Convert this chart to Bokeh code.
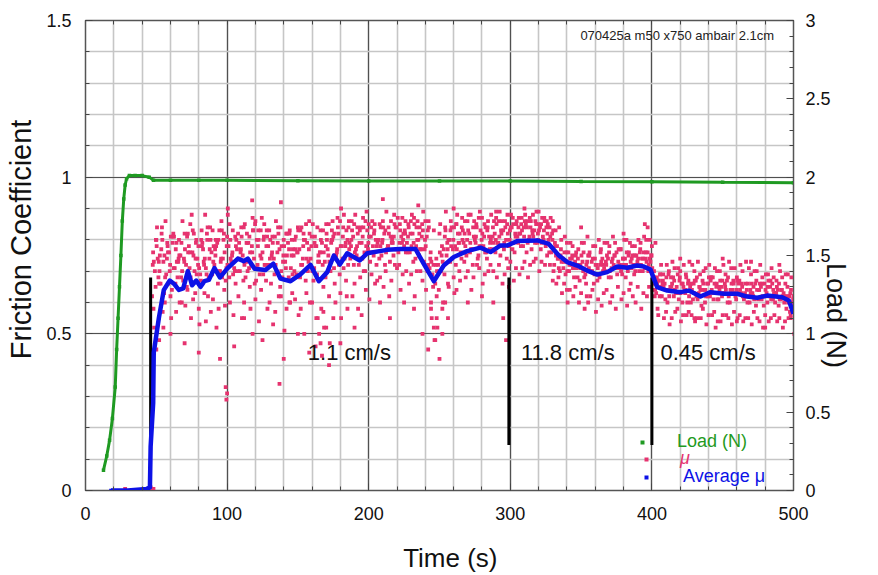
import numpy as np
from bokeh.plotting import figure
from bokeh.models import (Range1d, LinearAxis, FixedTicker, NumeralTickFormatter,
                          Label, Legend, LegendItem)
from bokeh.embed import file_html
from bokeh.resources import INLINE

# ---------------- data ----------------
load_t = [12.7, 15, 17, 19, 21, 22, 23, 24, 25, 26, 27, 28, 29, 31, 35, 40, 45, 48,
          60, 80, 100, 150, 200, 250, 300, 350, 400, 450, 500]
load_n = [0.13, 0.22, 0.32, 0.46, 0.66, 0.90, 1.10, 1.30, 1.50, 1.72, 1.86, 1.95, 1.99,
          2.01, 2.01, 2.01, 2.00, 1.98, 1.98, 1.98, 1.98, 1.977, 1.975, 1.975, 1.975,
          1.972, 1.97, 1.967, 1.965]

avg_t = [18, 30, 43, 45.5, 46, 47.8, 48.2, 51.8, 55.3, 59.5, 62.4, 65.9, 69, 72.3, 75.3,
         78.2, 81.2, 84, 87.1, 91.1, 94.9, 100.1, 107.6, 111.8, 114.6, 119.4, 127.1,
         132.6, 137.7, 144.8, 151.8, 158.9, 164.8, 170.7, 175.4, 179.6, 184.8, 193.7,
         198.9, 213, 222.5, 233, 238.9, 246, 253, 260.1, 269.5, 278.9, 286, 293.1, 297.8,
         304.9, 319, 327.2, 334.3, 340.2, 347.2, 354.3, 361.4, 368.4, 375.5, 382.5, 389.6,
         394.3, 399, 403.7, 410.8, 420.2, 426.1, 434.3, 441.4, 450.8, 460.2, 467.3, 474.4,
         481.4, 492, 496.7, 500]
avg_mu = [0.0, 0.0, 0.005, 0.01, 0.14, 0.28, 0.44, 0.55, 0.64, 0.67, 0.66, 0.64, 0.645,
          0.70, 0.655, 0.67, 0.65, 0.668, 0.672, 0.71, 0.68, 0.708, 0.74, 0.732, 0.74,
          0.708, 0.704, 0.724, 0.676, 0.668, 0.69, 0.72, 0.668, 0.697, 0.75, 0.721, 0.757,
          0.734, 0.757, 0.768, 0.771, 0.771, 0.723, 0.668, 0.718, 0.745, 0.764, 0.775,
          0.761, 0.782, 0.782, 0.796, 0.798, 0.787, 0.75, 0.729, 0.718, 0.702, 0.689,
          0.697, 0.715, 0.711, 0.718, 0.715, 0.705, 0.649, 0.638, 0.633, 0.638, 0.619,
          0.633, 0.628, 0.628, 0.619, 0.615, 0.622, 0.617, 0.606, 0.564]

# friction coefficient samples (hundredths), six sweeps sampled every 2 s
mu_time = list(range(47, 500, 2))
sweep_offsets = [0.0, 0.5, 1.0, 1.5, 0.75, 1.25]

mu_a = [62, 70, 74, 66, 73, 69, 76, 64, 71, 68,
        75, 67, 72, 78, 66, 70, 74, 69, 77, 71,
        68, 76, 72, 79, 70, 74, 67, 78, 73, 71,
        77, 70, 75, 68, 79, 72, 74, 80, 69, 76,
        72, 78, 66, 74, 70, 77, 68, 73, 79, 71,
        75, 69, 77, 72, 80, 70, 74, 67, 78, 73,
        79, 73, 77, 70, 81, 75, 72, 78, 74, 80,
        74, 81, 77, 72, 79, 76, 83, 73, 78, 80,
        80, 75, 82, 77, 73, 79, 84, 76, 81, 78,
        79, 76, 82, 74, 80, 77, 73, 81, 71, 69,
        66, 72, 70, 77, 75, 80, 74, 78, 82, 76,
        79, 75, 82, 77, 80, 74, 83, 78, 76, 81,
        77, 82, 79, 75, 83, 80, 78, 84, 76, 81,
        82, 78, 85, 80, 77, 83, 79, 84, 81, 78,
        80, 76, 72, 78, 70, 74, 69, 76, 72, 68,
        71, 67, 73, 69, 75, 70, 66, 72, 68, 74,
        70, 74, 68, 72, 76, 71, 69, 74, 70, 73,
        72, 75, 70, 74, 71, 76, 73, 66, 63, 67,
        62, 66, 60, 65, 68, 63, 61, 66, 64, 60,
        65, 61, 67, 63, 59, 64, 66, 62, 68, 63,
        61, 65, 63, 67, 60, 64, 62, 66, 63, 61,
        64, 60, 63, 66, 61, 65, 59, 63, 62, 66,
        60, 64, 61, 63, 58, 62, 59]
mu_b = [72, 65, 68, 77, 63, 74, 70, 79, 66, 73,
        68, 74, 65, 71, 76, 63, 72, 67, 73, 69,
        74, 69, 77, 66, 73, 80, 71, 68, 75, 70,
        70, 76, 67, 73, 71, 78, 66, 72, 75, 69,
        67, 72, 75, 69, 76, 65, 73, 71, 68, 75,
        70, 76, 68, 74, 67, 73, 78, 71, 69, 76,
        72, 68, 75, 79, 71, 76, 69, 74, 78, 72,
        78, 72, 75, 79, 74, 70, 77, 81, 75, 72,
        74, 79, 72, 78, 81, 75, 77, 72, 79, 83,
        76, 82, 73, 78, 75, 81, 77, 70, 74, 65,
        72, 64, 75, 69, 79, 73, 77, 72, 79, 74,
        73, 80, 76, 72, 79, 75, 78, 81, 74, 77,
        81, 76, 79, 83, 77, 74, 80, 77, 82, 79,
        78, 84, 76, 81, 83, 79, 82, 77, 80, 84,
        76, 82, 79, 74, 75, 71, 73, 70, 74, 71,
        68, 72, 70, 66, 71, 73, 69, 67, 72, 70,
        73, 68, 71, 75, 69, 72, 74, 68, 75, 71,
        69, 72, 76, 70, 74, 70, 75, 70, 68, 62,
        66, 61, 64, 68, 62, 65, 67, 60, 63, 66,
        60, 66, 62, 65, 64, 60, 62, 67, 61, 65,
        65, 62, 66, 60, 64, 67, 61, 63, 66, 62,
        60, 64, 62, 59, 64, 61, 66, 60, 65, 61,
        63, 59, 64, 60, 62, 57, 60]
mu_c = [58, 80, 66, 84, 60, 78, 62, 82, 57, 80,
        60, 82, 64, 85, 61, 79, 58, 83, 63, 80,
        84, 61, 80, 58, 86, 64, 81, 60, 83, 66,
        62, 84, 60, 82, 65, 87, 61, 83, 64, 81,
        83, 60, 81, 57, 84, 62, 80, 58, 82, 63,
        61, 84, 58, 82, 63, 86, 60, 81, 55, 83,
        65, 85, 62, 83, 66, 87, 63, 84, 67, 86,
        86, 66, 84, 68, 87, 64, 85, 69, 83, 67,
        68, 86, 70, 84, 67, 88, 71, 85, 69, 86,
        85, 69, 87, 70, 84, 67, 86, 72, 60, 83,
        62, 82, 58, 84, 66, 86, 68, 85, 70, 87,
        86, 70, 88, 68, 85, 71, 87, 69, 84, 72,
        70, 87, 72, 86, 69, 88, 73, 85, 71, 87,
        87, 73, 86, 72, 88, 74, 85, 73, 87, 75,
        72, 86, 83, 68, 80, 66, 79, 64, 78, 65,
        77, 63, 79, 62, 76, 64, 78, 61, 77, 63,
        64, 78, 62, 79, 65, 77, 63, 80, 64, 78,
        78, 65, 79, 63, 80, 65, 78, 62, 58, 69,
        69, 57, 70, 55, 71, 58, 70, 56, 69, 57,
        56, 70, 55, 69, 58, 71, 56, 68, 57, 70,
        70, 56, 69, 55, 71, 57, 68, 56, 70, 55,
        55, 69, 57, 70, 54, 68, 56, 69, 55, 68,
        67, 55, 68, 54, 69, 56, 62]
mu_d = [52, 84, 75, 57, 86, 66, 55, 81, 73, 60,
        86, 59, 76, 55, 82, 69, 53, 79, 88, 62,
        57, 78, 52, 83, 68, 59, 88, 74, 56, 80,
        79, 55, 85, 70, 58, 83, 67, 54, 87, 72,
        58, 80, 53, 86, 62, 78, 51, 82, 60, 77,
        81, 56, 84, 50, 79, 60, 85, 46, 75, 58,
        52, 80, 47, 86, 60, 82, 55, 88, 62, 79,
        62, 88, 58, 84, 70, 89, 61, 86, 66, 80,
        84, 65, 89, 62, 80, 72, 87, 64, 82, 70,
        66, 88, 62, 86, 70, 89, 64, 84, 55, 48,
        52, 85, 60, 89, 65, 84, 63, 88, 67, 83,
        68, 88, 64, 86, 72, 89, 66, 84, 70, 88,
        86, 68, 89, 66, 84, 71, 88, 67, 86, 69,
        71, 88, 68, 86, 73, 89, 70, 87, 72, 85,
        87, 70, 66, 84, 63, 81, 60, 79, 62, 76,
        60, 79, 58, 81, 62, 78, 57, 80, 59, 79,
        79, 60, 81, 58, 77, 61, 80, 59, 79, 62,
        60, 80, 58, 81, 62, 80, 64, 79, 56, 72,
        55, 72, 53, 73, 57, 71, 54, 72, 56, 73,
        72, 54, 73, 55, 70, 53, 72, 56, 71, 54,
        54, 72, 56, 73, 53, 71, 55, 72, 54, 73,
        71, 53, 70, 55, 72, 52, 69, 54, 71, 56,
        54, 70, 52, 69, 55, 68, 50]
mu_e = [76, 80, 73, 82, 75, 79, 72, 81, 77, 74,
        79, 73, 81, 76, 83, 74, 78, 80, 72, 82,
        77, 83, 75, 80, 74, 82, 78, 85, 76, 81,
        82, 77, 84, 79, 81, 76, 85, 78, 83, 80,
        78, 83, 76, 81, 79, 84, 75, 82, 77, 80,
        80, 76, 83, 78, 85, 77, 81, 79, 84, 76,
        83, 78, 85, 80, 82, 77, 86, 81, 79, 84,
        80, 85, 78, 83, 81, 86, 79, 84, 82, 78,
        85, 80, 83, 78, 86, 81, 84, 79, 87, 82,
        81, 86, 79, 84, 82, 85, 80, 83, 76, 72,
        74, 70, 78, 81, 77, 83, 80, 85, 79, 84,
        82, 86, 79, 84, 81, 87, 80, 85, 83, 79,
        84, 80, 86, 82, 79, 85, 83, 87, 81, 84,
        85, 81, 84, 87, 82, 86, 80, 85, 83, 86,
        84, 80, 78, 74, 77, 73, 76, 72, 75, 73,
        74, 71, 76, 72, 75, 70, 74, 71, 76, 72,
        72, 76, 73, 75, 71, 77, 74, 72, 76, 74,
        75, 73, 77, 74, 76, 72, 75, 68, 66, 69,
        67, 64, 69, 65, 67, 63, 68, 66, 64, 67,
        66, 63, 68, 65, 67, 64, 66, 68, 63, 66,
        64, 67, 65, 68, 63, 66, 64, 67, 65, 63,
        66, 63, 65, 67, 64, 66, 62, 65, 67, 64,
        63, 66, 64, 62, 65, 63, 61]
mu_f = [73, 78, 70, 80, 68, 76, 81, 71, 79, 75,
        70, 77, 82, 68, 75, 80, 71, 78, 74, 84,
        80, 73, 78, 70, 83, 76, 72, 80, 69, 78,
        74, 81, 72, 79, 76, 83, 71, 80, 74, 85,
        81, 74, 79, 72, 82, 70, 78, 75, 83, 69,
        77, 83, 72, 80, 74, 82, 70, 78, 73, 80,
        76, 82, 73, 80, 75, 84, 78, 71, 83, 77,
        83, 76, 82, 74, 84, 78, 81, 76, 85, 79,
        78, 84, 76, 82, 79, 85, 77, 83, 80, 76,
        84, 78, 85, 80, 77, 83, 78, 86, 73, 67,
        70, 76, 73, 83, 80, 78, 84, 77, 82, 80,
        78, 83, 77, 81, 84, 78, 82, 76, 86, 80,
        79, 85, 81, 78, 86, 82, 84, 79, 85, 82,
        83, 86, 79, 84, 81, 85, 83, 79, 86, 82,
        81, 83, 75, 71, 73, 76, 70, 74, 71, 75,
        72, 75, 68, 73, 70, 74, 72, 69, 73, 71,
        75, 70, 74, 71, 73, 70, 72, 76, 71, 75,
        70, 74, 72, 76, 73, 74, 71, 64, 67, 65,
        65, 68, 62, 66, 64, 69, 63, 65, 68, 62,
        64, 67, 61, 64, 66, 62, 68, 64, 66, 61,
        67, 63, 64, 62, 66, 63, 67, 64, 62, 66,
        62, 66, 61, 64, 66, 62, 64, 67, 61, 63,
        65, 61, 62, 66, 60, 64, 62]
mu_sweeps = [mu_a, mu_b, mu_c, mu_d, mu_e, mu_f]

# isolated friction readings (outliers and pre-slide zeros)
out_t = [28, 44, 46, 47, 48, 50, 52, 55, 60, 70, 75, 80, 85, 95, 99, 99.5, 100, 100.5,
         105, 112, 117.7, 118, 120, 125, 137, 138, 140, 144, 150, 158, 163, 165, 166,
         167, 168, 170, 172, 175, 180, 180.5, 185, 190, 195, 208, 210, 215, 225, 232,
         235, 238, 242, 244, 246, 247, 248, 250, 252, 254, 256, 260, 262, 270, 280,
         288, 290, 295, 297, 299, 310, 320, 330, 340, 350, 355, 380, 385, 395, 397,
         420, 430, 445, 450, 460, 470, 480, 490, 498]
out_mu = [0.005, 0.005, 0.01, 0.0, 0.005, 0.45, 0.48, 0.52, 0.50, 0.47, 0.88, 0.44,
          0.54, 0.42, 0.33, 0.29, 0.31, 0.90, 0.46, 0.55, 0.926, 0.50, 0.86, 0.48, 0.34,
          0.92, 0.42, 0.60, 0.50, 0.44, 0.55, 0.50, 0.47, 0.43, 0.57, 0.52, 0.40, 0.55,
          0.47, 0.90, 0.58, 0.52, 0.56, 0.60, 0.93, 0.55, 0.60, 0.58, 0.91, 0.50, 0.45,
          0.58, 0.52, 0.48, 0.55, 0.42, 0.50, 0.60, 0.55, 0.90, 0.64, 0.60, 0.62, 0.60,
          0.89, 0.55, 0.48, 0.65, 0.90, 0.89, 0.67, 0.64, 0.84, 0.60, 0.82, 0.66, 0.85,
          0.84, 0.74, 0.55, 0.52, 0.74, 0.54, 0.73, 0.52, 0.72, 0.55]

change_t = [46, 299, 400]          # sliding-speed changes
change_lo, change_hi = 0.145, 0.68
speed_text = ["1.1 cm/s", "11.8 cm/s", "0.45 cm/s"]
run_id = "070425a m50 x750 ambair 2.1cm"

x_ticks = [0, 100, 200, 300, 400, 500]
x_minor = list(range(0, 501, 20))
y_ticks = [0, 0.5, 1, 1.5]
y_minor = [i / 10 for i in range(16)]
load_ticks = [0, 0.5, 1, 1.5, 2, 2.5, 3]
load_minor = [i / 10 for i in range(31)]

# ---------------- styling ----------------
FONT = "Liberation Sans"
PINK = "#e6336f"
BLUE = "#0d12e6"
GREEN = "#1f9a22"
NB = "\u00a0"   # non-breaking spaces shift the axis titles off-centre like the original

p = figure(width=878, height=575, x_range=Range1d(0, 500), y_range=Range1d(0, 1.5),
           output_backend="svg", toolbar_location=None,
           min_border_left=85, min_border_right=85, min_border_top=20,
           min_border_bottom=85)
p.extra_y_ranges = {"load": Range1d(0, 3)}
p.background_fill_color = "white"
p.outline_line_color = "#555555"
p.outline_line_width = 1.5

for g in (p.xgrid, p.ygrid):
    g.grid_line_color = "#505050"
    g.grid_line_width = 1.2
    g.minor_grid_line_color = "#c6c6c6"
    g.minor_grid_line_width = 1.6
p.xgrid.ticker = FixedTicker(ticks=x_ticks, minor_ticks=x_minor)
p.ygrid.ticker = FixedTicker(ticks=y_ticks, minor_ticks=y_minor)


def style_axis(ax, size="18px"):
    ax.major_tick_in = 7
    ax.major_tick_out = 0
    ax.minor_tick_in = 4
    ax.minor_tick_out = 0
    ax.major_tick_line_color = "#444444"
    ax.minor_tick_line_color = "#444444"
    ax.axis_line_color = "#555555"
    ax.major_label_text_font = FONT
    ax.major_label_text_font_size = size
    ax.major_label_text_color = "#111111"
    ax.axis_label_text_font = FONT
    ax.axis_label_text_font_size = "27px"
    ax.axis_label_text_font_style = "normal"
    ax.axis_label_text_color = "#111111"


xa = p.xaxis[0]
xa.ticker = FixedTicker(ticks=x_ticks, minor_ticks=x_minor)
style_axis(xa)
xa.axis_label = NB * 3 + "Time (s)"
xa.axis_label_text_font_size = "26px"
xa.major_label_standoff = 16
xa.axis_label_standoff = 20

ya = p.yaxis[0]
ya.ticker = FixedTicker(ticks=y_ticks, minor_ticks=y_minor)
ya.formatter = NumeralTickFormatter(format="0.[0]")
style_axis(ya)
ya.axis_label = NB * 4 + "Friction Coefficient"
ya.axis_label_text_font_size = "29px"
ya.major_label_standoff = 14
ya.axis_label_standoff = 6

ra = LinearAxis(y_range_name="load",
                ticker=FixedTicker(ticks=load_ticks, minor_ticks=load_minor),
                formatter=NumeralTickFormatter(format="0.[0]"),
                axis_label=NB * 16 + "Load (N)")
style_axis(ra)
ra.major_label_standoff = 12
ra.axis_label_standoff = -13
p.add_layout(ra, "right")

ta = LinearAxis(ticker=FixedTicker(ticks=[], minor_ticks=x_minor))
style_axis(ta)
p.add_layout(ta, "above")

# ---------------- data glyphs ----------------
p.line(load_t, load_n, y_range_name="load", line_color=GREEN, line_width=3)
load_r = p.scatter(load_t, load_n, y_range_name="load", marker="square", size=3.5,
                   fill_color=GREEN, line_color=None)

mu_r = None
for off, vv in zip(sweep_offsets, mu_sweeps):
    n = min(len(mu_time), len(vv))
    tt = [t + off for t in mu_time[:n]]
    r = p.scatter(tt, np.array(vv[:n]) / 100.0, marker="square", size=3.8,
                  fill_color=PINK, line_color=None)
    mu_r = mu_r or r
p.scatter(out_t, out_mu, marker="square", size=3.8, fill_color=PINK, line_color=None)

p.segment(x0=change_t, y0=[change_lo] * len(change_t), x1=change_t,
          y1=[change_hi] * len(change_t), line_color="black", line_width=3)

p.line(avg_t, avg_mu, line_color=BLUE, line_width=4.5, line_join="round")
avg_r = p.scatter(avg_t[:1], avg_mu[:1], marker="square", size=3.5, fill_color=BLUE,
                  line_color=None)

# ---------------- annotations ----------------
for txt, x in zip(speed_text, [157, 307.5, 406]):
    p.add_layout(Label(x=x, y=0.44, text=txt, text_font=FONT, text_font_size="22px",
                       text_baseline="middle", text_color="#111111"))

p.add_layout(Label(x=349.5, y=1.452, text=run_id, text_font=FONT,
                   text_font_size="13px", text_baseline="middle", text_color="#222222"))


def add_legend(label, rend, color, loc, standoff, style="normal"):
    leg = Legend(items=[LegendItem(label=label, renderers=[rend])], location=loc,
                 background_fill_alpha=0, border_line_alpha=0, padding=0, margin=0,
                 spacing=0, glyph_width=10, glyph_height=10, label_standoff=standoff,
                 label_text_font=FONT, label_text_font_size="18px",
                 label_text_color=color, label_text_font_style=style,
                 label_height=10)
    p.add_layout(leg)


add_legend("Load (N)", load_r, GREEN, (552, 38), 30)
add_legend("μ", mu_r, PINK, (556, 21), 29, "italic")
add_legend("Average μ", avg_r, BLUE, (556, 3), 32)

open("out.html", "w").write(file_html(p, INLINE))
